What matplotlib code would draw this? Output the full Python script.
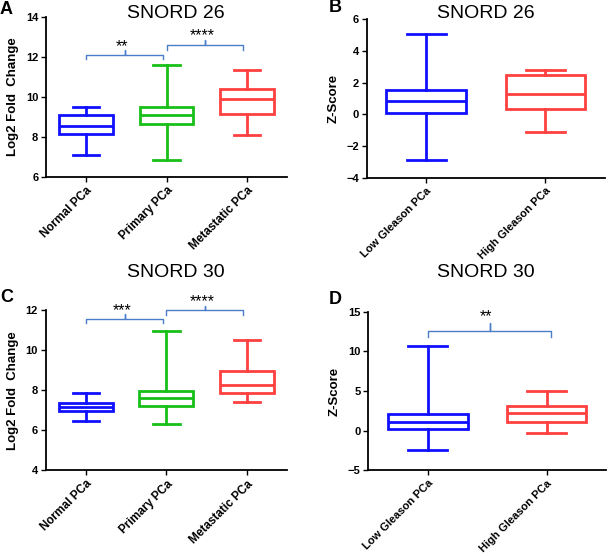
import matplotlib
matplotlib.use("Agg")
import matplotlib.pyplot as plt

plt.rcParams['font.family'] = ['Liberation Sans', 'DejaVu Sans']

# ---- data ----
groups3 = ["Normal PCa", "Primary PCa", "Metastatic PCa"]
groups2 = ["Low Gleason PCa", "High Gleason PCa"]
colors3 = ["#1010ff", "#18c018", "#ff4040"]
colors2 = ["#1010ff", "#ff4040"]

# SNORD 26 (A): whislo, q1, med, q3, whishi
a_whislo = [7.09, 6.84, 8.09]
a_q1 = [8.16, 8.64, 9.16]
a_med = [8.54, 9.08, 9.90]
a_q3 = [9.08, 9.48, 10.40]
a_whishi = [9.48, 11.59, 11.34]

# SNORD 26 (B)
b_whislo = [-2.87, -1.13]
b_q1 = [0.06, 0.31]
b_med = [0.87, 1.31]
b_q3 = [1.54, 2.46]
b_whishi = [5.04, 2.82]

# SNORD 30 (C)
c_whislo = [6.44, 6.29, 7.39]
c_q1 = [6.94, 7.21, 7.87]
c_med = [7.16, 7.61, 8.24]
c_q3 = [7.36, 7.94, 8.95]
c_whishi = [7.86, 10.95, 10.49]

# SNORD 30 (D)
d_whislo = [-2.44, -0.29]
d_q1 = [0.21, 1.13]
d_med = [1.13, 2.27]
d_q3 = [2.06, 3.07]
d_whishi = [10.71, 5.00]

fig = plt.figure(figsize=(6.09, 5.56), dpi=100)
W, H = 609.0, 556.0


def make_ax(l, r, t, b):
    return fig.add_axes([l / W, (H - b) / H, (r - l) / W, (b - t) / H])


def draw_panel(ax, labels, colors, lo, q1, med, q3, hi, ylim, yticks, ylabel, xfs):
    stats = []
    for i in range(len(labels)):
        stats.append(dict(whislo=lo[i], q1=q1[i], med=med[i], q3=q3[i],
                          whishi=hi[i], fliers=[], label=labels[i]))
    pos = list(range(len(labels)))
    bp = ax.bxp(stats, positions=pos, widths=0.67, capwidths=0.33,
                showfliers=False, patch_artist=True)
    for i, c in enumerate(colors):
        bp['boxes'][i].set(facecolor='white', edgecolor=c, linewidth=2.0)
        bp['medians'][i].set(color=c, linewidth=2.0)
        for w in bp['whiskers'][2 * i:2 * i + 2]:
            w.set(color=c, linewidth=2.0)
        for cp in bp['caps'][2 * i:2 * i + 2]:
            cp.set(color=c, linewidth=2.0)
    ax.set_xlim(-0.5, len(labels) - 0.5)
    ax.set_ylim(*ylim)
    ax.set_yticks(yticks)
    ax.set_xticks(pos)
    ax.set_xticklabels(labels, rotation=45, ha='right', rotation_mode='anchor',
                       fontsize=xfs, fontweight='bold')
    for lab in ax.get_yticklabels():
        lab.set_fontweight('bold')
        lab.set_fontsize(8)
    ax.spines['top'].set_visible(False)
    ax.spines['right'].set_visible(False)
    ax.spines['left'].set_linewidth(1.3)
    ax.spines['bottom'].set_linewidth(1.3)
    ax.tick_params(axis='both', direction='out', length=3.5, width=1.0, pad=2)
    ax.set_ylabel(ylabel, fontsize=9.5, fontweight='bold', labelpad=5)


def bracket(ax, x0, x1, ytop, yend, ynub, ytext, text):
    xm = (x0 + x1) / 2
    ax.plot([x0, x0, xm, xm, xm, x1, x1], [yend, ytop, ytop, ynub, ytop, ytop, yend],
            color='#4a7ec8', lw=1.0, clip_on=False)
    ax.text(xm - 0.03, ytext, text, ha='center', va='center', fontsize=11.5, clip_on=False)


axA = make_ax(46, 287, 17, 177)
draw_panel(axA, groups3, colors3, a_whislo, a_q1, a_med, a_q3, a_whishi,
           (6, 14), [6, 8, 10, 12, 14], "Log2 Fold  Change", 8.5)
bracket(axA, 0.0, 0.96, 12.1, 11.9, 12.33, 12.5, "**")
bracket(axA, 1.0, 1.95, 12.6, 12.36, 12.85, 13.05, "****")

axB = make_ax(366.7, 605, 19, 178)
draw_panel(axB, groups2, colors2, b_whislo, b_q1, b_med, b_q3, b_whishi,
           (-4, 6), [-4, -2, 0, 2, 4, 6], "Z-Score", 8)

axC = make_ax(45.7, 287, 310, 470.3)
draw_panel(axC, groups3, colors3, c_whislo, c_q1, c_med, c_q3, c_whishi,
           (4, 12), [4, 6, 8, 10, 12], "Log2 Fold  Change", 8.5)
bracket(axC, 0.0, 0.96, 11.53, 11.33, 11.78, 11.95, "***")
bracket(axC, 1.0, 1.95, 11.98, 11.75, 12.2, 12.4, "****")

axD = make_ax(368.3, 606, 311.7, 470.3)
draw_panel(axD, groups2, colors2, d_whislo, d_q1, d_med, d_q3, d_whishi,
           (-5, 15), [-5, 0, 5, 10, 15], "Z-Score", 8)
bracket(axD, 0.0, 1.04, 12.56, 11.76, 13.53, 14.4, "**")

# titles
fig.text(176 / W, 1 - 13 / H, "SNORD 26", ha='center', va='center', fontsize=14)
fig.text(486 / W, 1 - 13 / H, "SNORD 26", ha='center', va='center', fontsize=14)
fig.text(176 / W, 1 - 272 / H, "SNORD 30", ha='center', va='center', fontsize=14)
fig.text(486 / W, 1 - 272 / H, "SNORD 30", ha='center', va='center', fontsize=14)

# panel letters
for x, y, s in [(0, 9, "A"), (329, 8, "B"), (0, 297, "C"), (329, 300, "D")]:
    fig.text(x / W, 1 - y / H, s, ha='left', va='center', fontsize=13, fontweight='bold')

fig.savefig("out.png", dpi=100)
